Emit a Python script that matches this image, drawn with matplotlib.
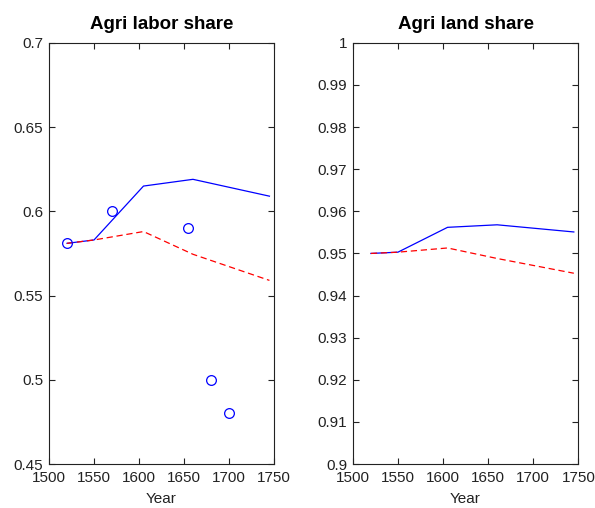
import matplotlib
matplotlib.use("Agg")
from matplotlib import pyplot as plt

plt.rcParams['font.family'] = ['Liberation Sans', 'DejaVu Sans']

# model years and results
years = [1520, 1550, 1605, 1660, 1745]
labor_model = [0.581, 0.583, 0.615, 0.619, 0.609]
labor_alt = [0.581, 0.583, 0.588, 0.5745, 0.559]
# data points
obs_years = [1520, 1570, 1655, 1680, 1700]
obs_labor = [0.581, 0.600, 0.590, 0.500, 0.480]

land_model = [0.9500, 0.9503, 0.9562, 0.9568, 0.9551]
land_alt = [0.9500, 0.9503, 0.9513, 0.9488, 0.9453]

xticks = [1500, 1550, 1600, 1650, 1700, 1750]
labor_ticks = [0.45, 0.5, 0.55, 0.6, 0.65, 0.7]
labor_labels = ['0.45', '0.5', '0.55', '0.6', '0.65', '0.7']
land_ticks = [0.9 + 0.01 * i for i in range(11)]
land_labels = ['0.9', '0.91', '0.92', '0.93', '0.94', '0.95', '0.96', '0.97', '0.98', '0.99', '1']

fig = plt.figure(figsize=(5.95, 5.08), dpi=100)
ax1 = fig.add_axes([0.0824, 0.0866, 0.378, 0.829])
ax2 = fig.add_axes([0.593, 0.0866, 0.379, 0.829])


def style(ax, yticks, ylabels, ylim, title):
    ax.set_xlim(1500, 1750)
    ax.set_ylim(*ylim)
    ax.set_xticks(xticks)
    ax.set_xticklabels([str(t) for t in xticks])
    ax.set_yticks(yticks)
    ax.set_yticklabels(ylabels)
    ax.tick_params(direction='in', top=True, right=True, length=4, width=0.8,
                   labelsize=11, color='#222222', labelcolor='#222222')
    ax.tick_params(axis='x', pad=5)
    ax.tick_params(axis='y', pad=4)
    for s in ax.spines.values():
        s.set_linewidth(0.8)
        s.set_color('#222222')
    ax.set_title(title, fontsize=13.5, fontweight='bold', pad=10)
    ax.set_xlabel('Year', fontsize=11, labelpad=5, color='#222222')


ax1.plot(years, labor_model, '-', color='blue', lw=0.9)
ax1.plot(years, labor_alt, '--', color='red', lw=0.9, dashes=(5, 3))
ax1.plot(obs_years, obs_labor, 'o', mfc='none', mec='blue', ms=7, mew=0.9)
style(ax1, labor_ticks, labor_labels, (0.45, 0.7), 'Agri labor share')

ax2.plot(years, land_model, '-', color='blue', lw=0.9)
ax2.plot(years, land_alt, '--', color='red', lw=0.9, dashes=(5, 3))
style(ax2, land_ticks, land_labels, (0.9, 1.0), 'Agri land share')

fig.savefig('out.png', dpi=100)
